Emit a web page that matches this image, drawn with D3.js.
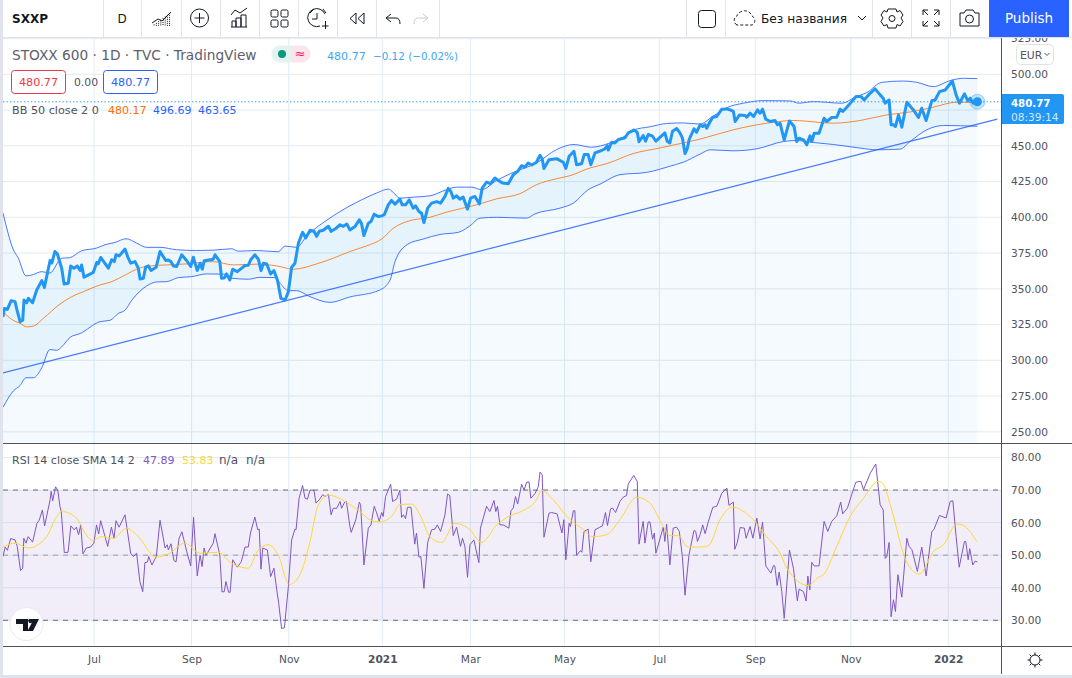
<!DOCTYPE html>
<html><head><meta charset="utf-8">
<script src="https://cdn.jsdelivr.net/npm/d3@7"></script>
<style>
html,body{margin:0;padding:0;background:#fff;overflow:hidden}
svg{display:block}
text{font-family:"DejaVu Sans",sans-serif}
.axis path,.axis line{display:none}
.axis text{fill:#50535e;font-size:10.6px;font-family:"DejaVu Sans",sans-serif}
</style></head><body>
<svg id="c" width="1072" height="678"></svg>
<script>
const closeDays=[0,0.6,2,3.7,5.5,6.2,7.8,9,9.6,10.8,11.6,13.5,15.4,17.7,18.9,21.5,22.3,23.7,24.8,26.8,27.9,29.8,30.9,32.4,33.9,35.2,35.9,37,39,41.2,42.8,43.5,44.6,48.1,49.6,50.8,51.6,53.1,55.7,57.2,58.3,60.3,61.8,62.6,64.1,65.1,66.4,67.6,69.9,71.7,74.3,75.5,76.7,77.8,79.3,81.6,83.9,85.7,86.9,88.7,90,91,91.9,96,96.8,99,99.8,101,102.1,103.6,104.9,107,110.5,112,113.1,115,116.6,117.8,118.9,120.4,122.2,123.7,125.3,126.9,128.8,130.3,131.8,133.3,134.9,136.8,138.2,140.2,142,143.2,144.4,146.2,148.6,149.8,151.6,153.9,155.4,157,158.4,160.7,162.7,163.7,164.8,166.8,168,169.5,171.3,172.9,174.1,175.9,177.4,179,181.2,182.3,183.8,185.5,187.3,188.4,189.9,191.1,192.2,193.9,195.7,198,199.8,201.8,203.3,204.5,205.6,207.1,208.6,210.1,212.1,213.5,215.5,217.5,218.8,220.8,222.6,224.6,226.1,228.1,230.7,233,235,236.8,238.3,239.8,241.4,243.6,245.2,246.2,247,249.3,252.8,255.8,257,258.5,260.7,261.9,264.2,265.4,267.2,268.4,270.3,273.3,274.8,275.9,276.4,277.9,279.4,281,284,285.5,288.1,289.6,290.4,292.3,293.4,294.6,296.6,298.1,302.2,303.3,304.5,305.7,307.6,309.1,310.2,311.4,312.4,313.3,315.5,316.7,318.3,319.5,320.6,321.3,322.9,324.1,325.9,328.2,330.5,332.8,333.5,334.3,336.3,338.9,339.6,341.1,342.7,344.5,345.7,346.8,348.3,350.3,352.5,353.6,354.8,356.7,359.1,361.2,362.4,363.5,365.5,367,368.5,369.3,370.4,372.6,374.9,376.1,378.4,380.7,382.2,383.4,385.3,387.5,389.5,391.8,393.2,395.9,398.2,400.5,401.9,402.8,404.6,405.5,406.6,407.5,408.9,410.4,412.7,415.7,418,419.5,421.5,424.1,425.6,427.6,430.2,433.5,435.2,436.7,439,440.5,441.6,443,444.9];
const closeValues=[330.4,336.3,335.6,341.7,341,336.3,327,328,342.2,340.3,343.3,340.3,349.2,355.7,351,369.8,368,376.1,374.5,364.4,353.4,353.9,366,364.4,366,362.8,366.7,358.1,359.7,361.4,368.4,367.5,371.9,364.4,370.3,369,373.8,373,377.8,371.4,367.9,369,364.4,356.9,357.4,365.1,366,362.8,365,376.1,369.8,370.2,369,366,365.6,373.8,369.6,365.6,372.1,362.8,367.9,363.7,369.6,370.7,373.8,369,357.4,357.6,360.4,356.2,363.7,362,366.3,366.5,370.3,373.8,370.7,362.8,367.9,367.4,360.4,362.8,356.2,343.3,342.2,348,365.1,367.9,382,389.5,385.5,390.9,390.2,386.7,390.2,390.9,393.7,390.2,391.8,394.8,393.7,395.3,391.2,393.5,398.2,395.6,387.2,395.8,397,402.2,400.5,401,401.8,408.7,411.8,409.2,412.7,408.7,408.7,412.2,406.4,408,404,402.9,396.3,406.4,409.9,411,409.9,414.6,420.2,418.1,413.4,415,412.7,414.1,405.7,413.4,414.6,409.4,420.4,424.6,423.5,427.5,425.8,424,423.5,429.8,432.1,436.1,435.2,438,436.6,438.5,443.4,440.8,434.2,440.3,441,438.5,434.2,442.7,446.2,436.8,437.5,443.9,443.9,436.8,445,446.7,447.8,450.2,447,452.5,452,454.4,455.6,459.1,461,459.5,452.8,457.2,453.2,457.9,456.7,453.2,459,453.2,452,460.2,462.1,459.1,455.6,444.6,447.8,454.4,461.9,459.5,464.7,463.5,464.7,462.3,467,470,470.5,475.6,475.8,474.7,474,467,471.6,471.2,470,472.8,470.5,475.1,472.8,475.6,468.6,467,467.7,464.7,465.8,454.2,467.4,463.5,453,455.3,454.2,450.7,457,453,458.8,458.8,469.3,467,469.8,470,475.6,474,477,480.9,484.4,484.4,482.1,486.7,489.8,485.6,483.3,479.8,482,464.7,464.7,463.5,471.6,463,480.5,475.1,469.8,476.3,467.7,481.6,482,487.9,489,495.3,485.6,479.8,486.3,481.6,483.3,479.8,480.77];

const upperDays=[0,1.7,4.4,7,10.5,13.9,17.7,21.4,26.8,30.3,35.9,42.8,46.6,51.1,56.2,61,65.6,71.7,79.3,88.4,96,104.4,107.5,115.8,125.7,128.8,134.1,138.6,149.3,158.4,163.7,170.6,175.9,178.2,181.2,187.3,194.9,202.5,207.1,214,218.5,225.4,233,243.6,252.8,260.7,268.7,277.1,283.2,287.8,295.4,303,310.6,318.2,324,330.5,338.1,347.2,359.4,363.2,370,383,389.1,394.4,401.3,411.1,417.2,424.8,432.5,438.5,444.9];
const upperValues=[403,392.5,378.5,371.4,359,360,362,361,371.4,371.7,376.6,378.5,380.8,382.4,385,382,379,379,377.3,376.8,377,378,376.3,376.8,375.9,379.9,379,386.7,399.5,408,412.2,417,419.7,417.4,413.4,414.1,415,419.3,421.1,421.1,419.3,425.8,431.4,438,447.4,450.9,449,452,456,461,463.3,465.6,466,465.2,470.5,476.7,479.8,481.6,481.4,479.8,480.9,479.8,484,487.2,494.4,495.3,494.4,491.4,495.6,497.2,497];

const basisDays=[0,4,7.8,10.8,13.9,18.4,26,31.4,36.7,44.3,48.9,56.5,61,67,74.7,83.9,96,105.2,115.8,125,132.6,143.2,150.8,158.4,166,172.9,178.2,184.3,194.9,202.5,216.2,225.4,236,243.6,252.8,258.9,268,275.6,287.8,300,310.6,318.3,333.5,348.7,361,379.2,391.4,403.5,415.7,424.8,435.5,444.9];
const basisValues=[334,328.6,325.8,323.4,323.9,329.3,339.3,344.5,348,352.7,354.6,360.2,363.7,366,366.7,367.4,369,366.7,367.2,366,363.7,367.4,371.4,376.1,380,384.8,392.3,397,400,403.6,408.7,412.9,416.5,422.8,427,429.1,434.5,437.5,444.6,448.5,452,454.7,461.2,465.8,467.7,465.8,467.7,471.6,474,477,480.5,480.17];

const lowerDays=[0,4.7,7.8,10.5,13.9,17.7,21.4,24.5,26.8,30.6,35.2,44.3,48.9,52.7,55.7,58.8,65.6,70.2,74.7,80,86.1,93,102.1,104.4,112,117.3,124.2,126.5,130.3,134,140.2,149.3,158.4,171.8,176.7,179,184.6,191.9,199.5,207.9,213.2,217.8,225.4,239.1,242.9,254.3,260.4,267.2,272.6,281.7,293.9,304.5,310.6,318.3,322.9,333.5,344.2,356.4,362.4,370,379.2,391.4,399,409.6,414.2,421.8,429.4,444.9];
const lowerValues=[267.2,278.5,282.4,287.8,287.8,294.8,307.5,307,309.4,316,318.7,327,328,332.8,335,342,352,354.8,355,357.8,358.5,360.4,360.2,357.4,356.7,358,357.8,353.9,348.7,348.7,344.5,340.5,344.3,349,356,369,381,384.8,388,389.5,394,399.4,400,399.4,402.4,406.4,409.9,419.3,423.2,429.8,431.4,435.7,438.5,444.2,447.2,446.5,447.9,453,453.7,452.3,450.9,448.4,447.2,447.7,453,461.2,464.2,463.65];

const rsiDays=[0,1,2,3.5,5.5,6.5,8,9,9.5,10.5,11.5,13.5,15.5,16.5,18,19,21.5,22,22.7,24,25,26,26.6,28,29.7,31,32.5,33.5,34.5,35.5,36.5,38,40,41.5,42.7,43.7,44.6,47.8,49.5,50.7,51.6,53,55.7,58.3,59.5,61,62.5,63.8,64.8,66,66.5,68,70,71.7,74,75,75.5,76.7,78,79,80.4,81.7,83.9,85.7,87,88.7,90,90.9,91.8,92.7,96,96.8,99,100,101,101.8,103,103.7,104.9,107,108.8,110.5,112,113,115,116.3,117,117.8,118.6,120.7,122.2,123.7,125,125.9,127.2,128.5,130.3,131.8,133.3,133.8,135.2,136.8,137.9,139,140.2,142,142.9,144.4,146,147,148.6,149.8,150.8,152.4,153.9,154.6,156,156.8,158.4,159,161.1,162.7,163.3,164.8,166.8,168,169.5,170.6,171.8,172.9,173.6,174.7,177,177.9,179.7,181.2,182,182.8,183.8,184.7,186.3,188,188.8,189.9,190.8,192.2,193.9,195.7,197.2,198.3,199.8,201.8,203,204,205.6,207.1,208.9,209.8,210.9,212.1,213.2,215,217.3,218,219.3,220.8,222.3,224.2,225,225.8,226.9,228.4,231,231.9,233,234,235,236.8,237.9,239.1,240.2,241,242.9,244.4,245.2,246.2,247,249.3,250.5,253,255.2,256.1,257,258.5,259.1,260.4,261.1,261.9,263.7,264.3,265.3,267.2,268.4,270.3,272.5,273.7,275.1,276,277.4,278.3,279.7,281.7,283.2,284.7,285.5,288,289.6,290.4,292.3,293.1,294.6,295.4,296.6,297.4,298.1,301.5,302.2,303,304.5,306,307.6,308.8,310.2,311.4,313.2,315.5,316.3,317.1,318.3,319.5,320.6,322.1,324.1,325.9,328.2,330.5,331.5,333.5,334.1,335.3,336.6,338.5,339.3,341.1,342.4,344.2,345.7,346.8,348.3,350.6,351.8,352.4,353.5,354.4,355.6,356.7,359.1,360.9,362.7,363.5,365.5,366.7,367.5,368.4,369.3,370.4,372.6,374.9,376.6,378.4,380.7,382.5,383.4,385.6,387.5,389.4,391.7,392.9,396,398.5,400.5,401.9,402.8,403.5,404.6,405.5,406.6,407.5,408.6,410.4,412.7,413.7,415,417.5,419.5,421.5,424.1,425,427.6,430.6,432.5,433.7,435.2,436.6,439,439.6,440.7,441.4,442.8,443.9,444.9];
const rsiValues=[49.6,52.5,51.5,55.1,54.7,52.7,45.3,46,55.2,53.7,55.7,54,59.8,60.7,63.9,59,67,69.6,66.7,71,70,65,63.4,50.8,50.9,59,57.8,58.6,56.3,59.3,50.4,52.2,52.5,53.7,59.3,56.5,60.6,52.7,58.6,55.2,60.6,58.6,62.4,50.6,49.6,50.6,41.9,38.8,47.7,47.9,49.6,47,49.6,60.7,52.2,53.2,51.6,53.5,48.4,47.9,55.2,57.2,51.1,46.7,61.7,43.6,50,46.5,52.2,50,53.7,56.6,50,38.7,38.8,41.9,38.6,38.6,48.6,46.3,48,52.5,52.5,56.8,61.7,57.8,58,45.7,52.2,51.6,43.4,46,39.3,35.2,27.5,27.7,40.4,54.7,58,57.8,67.5,71.4,67.5,67.2,70,69.9,66,67,68.6,68,68.6,62.4,64.4,64.4,66.5,64.4,66.3,66.5,58.8,57,60.9,66.3,65.5,47,58.3,59.3,65,63,60.4,63.1,61.9,68,71.8,66.5,67.2,69.9,61.6,62.4,61.2,64.7,64.7,53.4,56.8,49.4,49.6,39.8,53.9,57.8,58,59.3,57.3,62.4,68.8,68.3,56,58.6,52.7,55.2,52.7,43.2,53.2,54.7,47.7,58.3,61.4,65,63.4,66.8,63.4,65,59.3,59.3,58.3,63.6,64.5,68,65.7,71.8,70,72.4,72.5,67.5,68.9,71,75.5,74.7,55.5,62.9,63.1,62.7,56.8,60.9,48.6,59.8,58.8,63.6,63.7,50,51.4,50.9,57.3,58,48,57.8,58.6,59,63.1,59.1,64.2,64.5,63.1,66.5,67.8,68.3,71.9,74.5,72.7,53.4,60.4,53.7,60.2,60.2,54.9,56.8,50.6,58.6,54.2,59.5,47,58.3,58.6,57.3,49.6,37.7,50,57.6,57.3,54.2,56.3,59.3,56.6,60.4,64.7,65,69,70.6,65.3,66.3,51.8,53.9,58.5,58.3,55.2,58.8,55.2,61.4,55,60.2,46.7,44.5,46.8,46.7,40.7,44.8,38.8,30.6,51.6,46,36,39.6,38.8,35.9,43.6,39.3,47.8,46.7,46.7,60.4,57.3,60.4,62.1,66.3,62.7,64.5,68.6,72.4,72.7,70.1,75.2,78,65.5,63.9,49,49.5,53.9,31.1,36.3,32.7,44,37.1,55.2,52.7,51.7,45,52.5,43.6,57.3,57.8,62.2,61.4,66.5,66.7,55.7,46.3,54.2,54.2,48.6,52,47,48.2,47.89];

const smaDays=[0,5.5,11.5,20,23.7,26.8,33.6,37.4,41,45,50.4,56.5,61,70,76,83,90,98,104.4,112,116.6,121,125.7,130.7,135.6,140,144,148.6,158.4,163,168.3,172,177.4,181.2,186.6,190.4,194.9,200.3,206.3,213.2,218.5,225.4,231.5,237.5,243.6,245.9,251.2,258.9,264.2,269.5,275.6,281.7,289.3,295.4,301.5,304.5,308.3,312.8,318.2,322.1,327.4,333.2,337.3,341.9,348.7,354.8,357.9,367.8,372.3,374.6,380.7,386.8,392.9,399.7,402,405.8,411.9,415.7,418.4,424.8,429.4,435.5,439.3,444.6];
const smaValues=[52.5,53.7,52.2,55.7,60.9,63.4,61.4,56.8,54.5,55.7,55.2,58.3,56.3,49.4,50.6,53.7,50.6,50.9,47.5,46,51.6,53.2,50,41,44,53.7,65.5,68.4,65.6,63.4,60.6,60.2,61.9,65.5,65.7,62.4,55.7,53.9,59.8,57.8,53.9,59.3,62.1,63.7,67,69.9,67,60.9,58.3,55.7,56.3,60.9,67.8,66,58.8,56,56,52.5,52.5,52.9,60.9,64.8,63.8,61.4,55.7,50.6,46,40.7,43.2,44,52.7,61.9,67.5,72.7,71.7,63.9,49,45,44.2,51.1,53.2,59.6,58.8,54.2];

const trendDays=[0,454];
const trendValues=[291.2,468.7];

const priceTicks=[525,500,475,450,425,400,375,350,325,300,275,250];
const priceLabels=[525,500,450,425,400,375,350,325,300,275,250];
const rsiTicks=[80,70,60,50,40,30];
const rsiLevels=[70,50,30];
const timeTicks=[41.55,86.1,130.5,173.2,213.4,256.4,299.7,343.5,387.1,431.6];
const timeLabels=["Jul","Sep","Nov","2021","Mar","May","Jul","Sep","Nov","2022"];

const svg=d3.select("#c");
const x=d3.scaleLinear().domain([0,454]).range([3,997.3]);
const yP=d3.scaleLinear().domain([250,500]).range([431.8,74.3]);
const yR=d3.scaleLinear().domain([30,80]).range([620.3,457.5]);
const zip=(a,b)=>a.map((d,i)=>[d,b[i]]);
const defs=svg.append("defs");
defs.append("clipPath").attr("id","cp").append("rect").attr("x",3).attr("y",38).attr("width",998).attr("height",405);
defs.append("clipPath").attr("id","cr").append("rect").attr("x",3).attr("y",444).attr("width",998).attr("height",202);

const gridC="#e1ecf2";
const grid=svg.append("g");
grid.selectAll(".v").data(timeTicks).join("line").attr("x1",d=>x(d)).attr("x2",d=>x(d)).attr("y1",38).attr("y2",646).attr("stroke",gridC);
grid.selectAll(".hp").data(priceTicks).join("line").attr("x1",3).attr("x2",1001).attr("y1",d=>yP(d)).attr("y2",d=>yP(d)).attr("stroke",gridC);
grid.selectAll(".hr").data(rsiTicks).join("line").attr("x1",3).attr("x2",1001).attr("y1",d=>yR(d)).attr("y2",d=>yR(d)).attr("stroke",gridC);

// price pane
const pg=svg.append("g").attr("clip-path","url(#cp)");
const lineP=d3.line().x(d=>x(d[0])).y(d=>yP(d[1]));
const smoothP=d3.line().x(d=>x(d[0])).y(d=>yP(d[1])).curve(d3.curveMonotoneX);
const closeData=zip(closeDays,closeValues), upperData=zip(upperDays,upperValues), lowerData=zip(lowerDays,lowerValues);
pg.append("path").datum(closeData).attr("d",d3.area().x(d=>x(d[0])).y0(443).y1(d=>yP(d[1]))).attr("fill","#2196f3").attr("fill-opacity",0.05);
pg.append("path").attr("d",lineP(upperData.concat(lowerData.slice().reverse()))+"Z").attr("fill","#2196f3").attr("fill-opacity",0.065);
pg.append("path").datum(upperData).attr("d",smoothP).attr("fill","none").attr("stroke","#2962ff").attr("stroke-opacity",.85);
pg.append("path").datum(lowerData).attr("d",smoothP).attr("fill","none").attr("stroke","#2962ff").attr("stroke-opacity",.85);
pg.append("path").datum(zip(basisDays,basisValues)).attr("d",smoothP).attr("fill","none").attr("stroke","#ff6d00").attr("stroke-opacity",.8);
pg.append("path").datum(zip(trendDays,trendValues)).attr("d",lineP).attr("fill","none").attr("stroke","#2962ff").attr("stroke-opacity",.85).attr("stroke-width",1.2);
pg.append("line").attr("x1",3).attr("x2",1001).attr("y1",yP(480.77)).attr("y2",yP(480.77)).attr("stroke","#2196f3").attr("stroke-dasharray","1.3 2.2");
pg.append("path").datum(closeData).attr("d",lineP).attr("fill","none").attr("stroke","#2196f3").attr("stroke-width",3).attr("stroke-linejoin","round");
const last=closeData[closeData.length-1];
pg.append("circle").attr("cx",x(last[0])).attr("cy",yP(last[1])).attr("r",7.5).attr("fill","#2196f3").attr("fill-opacity",.25).attr("stroke","#2196f3").attr("stroke-opacity",.35);
pg.append("circle").attr("cx",x(last[0])).attr("cy",yP(last[1])).attr("r",4.5).attr("fill","#2196f3");

// RSI pane
const rg=svg.append("g").attr("clip-path","url(#cr)");
rg.append("rect").attr("x",3).attr("width",998).attr("y",yR(70)).attr("height",yR(30)-yR(70)).attr("fill","#7e57c2").attr("fill-opacity",.1);
rg.selectAll(".lvl").data(rsiLevels).join("line").attr("x1",3).attr("x2",1001).attr("y1",d=>yR(d)).attr("y2",d=>yR(d)).attr("stroke",d=>d==50?"#9a9ca6":"#6a6d78").attr("stroke-dasharray","5 5");
const lineR=d3.line().x(d=>x(d[0])).y(d=>yR(d[1]));
rg.append("path").datum(zip(rsiDays,rsiValues)).attr("d",lineR).attr("fill","none").attr("stroke","#7e57c2").attr("stroke-width",1);
rg.append("path").datum(zip(smaDays,smaValues)).attr("d",lineR.curve(d3.curveMonotoneX)).attr("fill","none").attr("stroke","#fdd835").attr("stroke-width",1);

// axes
svg.append("g").attr("class","axis").attr("transform","translate(1005,0)").call(d3.axisRight(yP).tickValues(priceLabels).tickFormat(d3.format(".2f")).tickSize(0).tickPadding(6));
svg.append("g").attr("class","axis").attr("transform","translate(1005,0)").call(d3.axisRight(yR).tickValues(rsiTicks).tickFormat(d3.format(".2f")).tickSize(0).tickPadding(6));
const tAxis=svg.append("g").attr("class","axis").attr("transform","translate(0,655)").call(d3.axisBottom(x).tickValues(timeTicks).tickFormat((d,i)=>timeLabels[i]).tickSize(0).tickPadding(0));
tAxis.selectAll("text").style("font-weight",(d,i)=>/^20/.test(timeLabels[i])?"bold":"normal");

// toolbar sits above the top of the price axis
const tb=svg.append("g");
tb.append("rect").attr("x",0).attr("y",0).attr("width",1072).attr("height",37).attr("fill","#fff");
tb.append("line").attr("x1",0).attr("x2",1072).attr("y1",37.5).attr("y2",37.5).attr("stroke","#e0e3eb");

// frame lines
const dark="#50535e";
svg.append("rect").attr("x",0).attr("y",0).attr("width",3).attr("height",678).attr("fill","#e0e3eb");
svg.append("rect").attr("x",0).attr("y",675).attr("width",1072).attr("height",3).attr("fill","#e0e3eb");
svg.append("line").attr("x1",3).attr("x2",1072).attr("y1",443.5).attr("y2",443.5).attr("stroke",dark);
svg.append("line").attr("x1",3).attr("x2",1072).attr("y1",646.5).attr("y2",646.5).attr("stroke",dark);
svg.append("line").attr("x1",1001.5).attr("x2",1001.5).attr("y1",38).attr("y2",674).attr("stroke",dark);
const seps=[103,141,181,220,259,298,337,376,439,686,725,872,911,950];
svg.selectAll(".sep").data(seps).join("line").attr("x1",d=>d+.5).attr("x2",d=>d+.5).attr("y1",0).attr("y2",37).attr("stroke","#e0e3eb");

function T(x,y,s,o={}){const t=svg.append("text").attr("x",x).attr("y",y).text(s).attr("font-size",o.size||11).attr("fill",o.fill||"#50535e");if(o.w)t.attr("font-weight",o.w);if(o.a)t.attr("text-anchor",o.a);return t;}
T(12,23,"SXXP",{size:12,w:"bold",fill:"#131722"});
T(122,23,"D",{size:12,a:"middle",fill:"#131722"});
const ic=svg.append("g").attr("fill","none").attr("stroke","#131722").attr("stroke-width",1);
const ag=svg.append("g").attr("stroke","#131722").attr("stroke-width",1);
[0,1,2,3,4,5,6,7,8].forEach(i=>ag.append("line").attr("x1",152+i*2.2).attr("x2",152+i*2.2).attr("y1",26-i*1.6).attr("y2",26).attr("stroke-dasharray","1 1"));
ic.append("path").attr("d","M152 23L158 19L162 21L171 12");
ic.append("circle").attr("cx",199.5).attr("cy",18).attr("r",9);
ic.append("path").attr("d","M199.5 13V23M194.5 18H204.5");
ic.append("path").attr("d","M232 27V21H236V27M236 27V18H241V27M241 27V15H246V27M231 27H247M231 15L235 10L240 13L247 8");
ic.append("g").selectAll("rect").data([[271,10],[281,10],[271,20],[281,20]]).join("rect").attr("x",d=>d[0]).attr("y",d=>d[1]).attr("width",7).attr("height",7).attr("rx",1.5);
ic.append("path").attr("d","M325 14A9 9 0 1 0 320 26M314 9L310 13M323 9L326 13M317 13V19H312M322 26H328.5M325.5 21V29");
ic.append("path").attr("d","M356 13L350 18.5L356 24ZM364 13L358 18.5L364 24Z");
ic.append("path").attr("d","M391 14L386 18L391 22M386 18H396Q400 18 400 24");
svg.append("path").attr("d","M423 14L428 18L423 22M428 18H418Q414 18 414 24").attr("fill","none").attr("stroke","#c8cad1");
ic.append("rect").attr("x",698.5).attr("y",10.5).attr("width",17).attr("height",17).attr("rx",3);
ic.append("path").attr("d","M737 25A5 5 0 0 1 737 16A8 8 0 0 1 752 16A5 5 0 0 1 752 25Z").attr("stroke-dasharray","3 2");
T(761,23,"Без названия",{size:12.2,fill:"#131722"});
ic.append("path").attr("d","M858 16L862 20L866 16");
ic.append("path").attr("d","M888 9H896L897 12L900 10.5L903 15L901 18L903 21.5L900 26L897 24.5L896 28H888L887 24.5L884 26L881 21.5L883 18L881 15L884 10.5L887 12Z");
ic.append("circle").attr("cx",892).attr("cy",18.5).attr("r",3);
ic.append("path").attr("d","M923 10H928M923 10V15M923 10L928 15M939 10H934M939 10V15M939 10L934 15M923 26H928M923 26V21M923 26L928 21M939 26H934M939 26V21M939 26L934 21");
ic.append("path").attr("d","M960 13H964L966 10H973L975 13H979V26H960Z");
ic.append("circle").attr("cx",969.5).attr("cy",19).attr("r",4);
svg.append("rect").attr("x",989).attr("y",0).attr("width",80).attr("height",37).attr("fill","#2962ff");
T(1029,23,"Publish",{size:13.5,fill:"#fff",a:"middle"});

// legend
T(12,60,"STOXX 600 · 1D · TVC · TradingView",{size:13.7,fill:"#5d606b"});
svg.append("path").attr("d","M280 45.5H291V62.5H280A8.5 8.5 0 0 1 280 45.5Z").attr("fill","#e3f3ef");
svg.append("path").attr("d","M291 45.5H302A8.5 8.5 0 0 1 302 62.5H291Z").attr("fill","#fce4ec");
svg.append("circle").attr("cx",282).attr("cy",54).attr("r",4).attr("fill","#089981");
T(300,58,"≈",{size:13,fill:"#e91e63",a:"middle"});
T(327,60,"480.77",{size:11.1,fill:"#42a5f5"});
T(373,60,"−0.12 (−0.02%)",{size:10.4,fill:"#42a5f5"});
svg.append("rect").attr("x",11.5).attr("y",70.5).attr("width",54).attr("height",23).attr("rx",3).attr("fill","#fff").attr("stroke","#f23645");
T(38.5,86,"480.77",{size:11.2,fill:"#f23645",a:"middle"});
T(74,86,"0.00",{size:10.8});
svg.append("rect").attr("x",103.5).attr("y",70.5).attr("width",54).attr("height",23).attr("rx",3).attr("fill","#fff").attr("stroke","#2962ff");
T(130.5,86,"480.77",{size:11.2,fill:"#2962ff",a:"middle"});
T(12,114,"BB 50 close 2 0",{size:11.2});
T(108,114,"480.17",{size:11,fill:"#ff6d00"});
T(153,114,"496.69",{size:11,fill:"#2962ff"});
T(198,114,"463.65",{size:11,fill:"#2962ff"});
T(12,464,"RSI 14 close SMA 14 2",{size:11});
T(143,464,"47.89",{size:11,fill:"#7e57c2"});
T(182,464,"53.83",{size:11,fill:"#fdd835"});
T(219,464,"n/a",{size:12});
T(246,464,"n/a",{size:12});

// EUR
svg.append("rect").attr("x",1016.5).attr("y",44.5).attr("width",37).attr("height",20).attr("rx",4).attr("fill","#fff").attr("stroke","#e0e3eb");
T(1020,58.5,"EUR",{size:10.8});
svg.append("path").attr("d","M1044.5 53L1047 55.5L1049.5 53").attr("fill","none").attr("stroke","#50535e");

// last price tag
svg.append("path").attr("d","M1002 94H1062a2 2 0 0 1 2 2V122a2 2 0 0 1 -2 2H1002Z").attr("fill","#2196f3");
T(1011,106.5,"480.77",{size:10.2,fill:"#fff",w:"bold"});
T(1011,120.5,"08:39:14",{size:10.6,fill:"#cfe8fc"});

// sun icon
const sun=svg.append("g").attr("fill","none").attr("stroke","#131722");
sun.append("circle").attr("cx",1035).attr("cy",660).attr("r",5);
[0,45,90,135,180,225,270,315].forEach(a=>{const r=a*Math.PI/180;sun.append("line").attr("x1",1035+5*Math.cos(r)).attr("y1",660+5*Math.sin(r)).attr("x2",1035+7.5*Math.cos(r)).attr("y2",660+7.5*Math.sin(r));});

// TV logo
svg.append("circle").attr("cx",26.5).attr("cy",624).attr("r",16.5).attr("fill","#fff").attr("stroke","#e8e9ee");
svg.append("path").attr("d","M16 619H28V631H23V624H16ZM29 619H39L33 631H27.5L32 622.5A2.2 2.2 0 0 1 29 619Z").attr("fill","#131722");
</script>
</body></html>
